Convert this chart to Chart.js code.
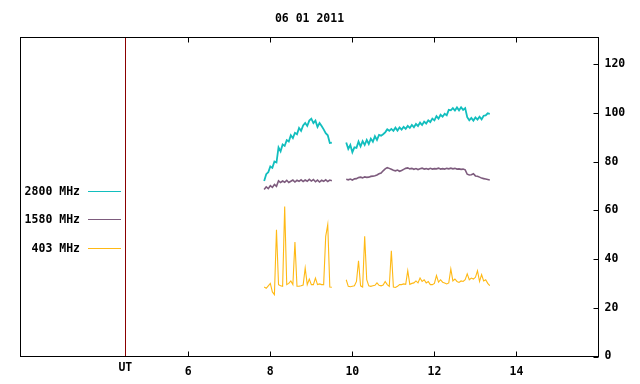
<!DOCTYPE html>
<html>
<head>
<meta charset="utf-8">
<script src="https://cdn.jsdelivr.net/npm/chart.js@4"></script>
<style>
  html, body { margin: 0; background: #ffffff; }
  #wrap { width: 640px; height: 384px; }
</style>
</head>
<body>
<div id="wrap"><canvas id="graph"></canvas></div>
<script>
// ========== DONNEES ==========
const title = '06 01 2011';
const seriesLabels = ['2800 MHz', '1580 MHz', '403 MHz'];
const seriesColors = ['#12BEBE', '#7D5B7D', '#FFB915'];
const seriesWidths = [1.8, 1.6, 1.1];

const xTicks = [6, 8, 10, 12, 14];
const yTicks = [0, 20, 40, 60, 80, 100, 120];
const utLabel = 'UT';
const utTime = 4.465;
const gapTime = 9.65;

// heures UT, premier bloc
const timesA = [7.85, 7.90, 7.95, 8.00, 8.05, 8.10, 8.15, 8.20, 8.25, 8.30,
  8.35, 8.40, 8.45, 8.50, 8.55, 8.60, 8.65, 8.70, 8.75, 8.80,
  8.85, 8.90, 8.95, 9.00, 9.05, 9.10, 9.15, 9.20, 9.25, 9.30,
  9.35, 9.40, 9.45, 9.50];

// heures UT, second bloc
const timesB = [9.85, 9.90, 9.95, 10.00, 10.05, 10.10, 10.15, 10.20, 10.25, 10.30,
  10.35, 10.40, 10.45, 10.50, 10.55, 10.60, 10.65, 10.70, 10.75, 10.80,
  10.85, 10.90, 10.95, 11.00, 11.05, 11.10, 11.15, 11.20, 11.25, 11.30,
  11.35, 11.40, 11.45, 11.50, 11.55, 11.60, 11.65, 11.70, 11.75, 11.80,
  11.85, 11.90, 11.95, 12.00, 12.05, 12.10, 12.15, 12.20, 12.25, 12.30,
  12.35, 12.40, 12.45, 12.50, 12.55, 12.60, 12.65, 12.70, 12.75, 12.80,
  12.85, 12.90, 12.95, 13.00, 13.05, 13.10, 13.15, 13.20, 13.25, 13.30,
  13.35];

// 2800 MHz
const flux2800A = [72.0, 74.8, 75.6, 78.0, 77.4, 80.0, 79.6, 85.8, 84.2, 87.0,
  86.4, 88.8, 88.2, 90.8, 89.6, 91.8, 91.2, 93.8, 92.6, 94.8,
  95.8, 94.6, 96.8, 97.6, 95.8, 96.8, 94.2, 95.8, 94.6, 93.2,
  91.6, 90.8, 87.6, 87.8];
const flux2800B = [87.8, 85.2, 86.8, 83.8, 85.8, 85.6, 88.2, 86.2, 88.4, 86.8,
  88.9, 87.2, 89.4, 88.1, 90.4, 88.9, 90.9, 90.6, 91.2, 92.0,
  93.2, 92.6, 93.4, 92.6, 93.9, 92.7, 94.0, 93.1, 94.2, 93.4,
  94.6, 93.8, 95.0, 94.1, 95.4, 94.6, 96.0, 95.0, 96.4, 95.6,
  96.9, 96.2, 97.6, 96.9, 98.6, 97.6, 99.2, 98.4, 99.6, 99.0,
  101.2, 101.0, 101.9, 100.9, 102.2, 101.0, 102.3, 101.2, 101.9, 98.2,
  96.9, 97.9, 96.8, 98.1, 97.2, 98.4, 97.3, 98.8, 98.9, 99.8,
  99.6];

// 1580 MHz
const flux1580A = [68.5, 69.6, 68.9, 70.1, 69.4, 70.6, 69.8, 72.1, 71.4, 72.0,
  71.5, 72.3, 71.4, 71.9, 72.4, 71.6, 72.3, 71.9, 72.5, 71.8,
  72.4, 71.9, 72.7, 72.0, 72.6, 71.7, 72.4, 71.6, 72.3, 71.9,
  72.5, 71.8, 72.4, 72.1];
const flux1580B = [72.7, 72.5, 72.8, 72.4, 72.9, 73.0, 73.4, 73.6, 73.3, 73.7,
  73.5, 73.6, 73.9, 74.0, 74.2, 74.5, 75.0, 75.3, 76.2, 77.0,
  77.5, 77.2, 76.8, 76.4, 76.2, 76.5, 76.0, 76.3, 76.8, 77.2,
  77.4, 77.0, 77.2, 76.8, 77.1, 76.7, 77.0, 77.3, 76.9, 77.1,
  76.8, 77.2, 76.9, 77.1, 77.0, 77.3, 76.9, 77.1, 76.9, 77.2,
  77.0, 77.3, 77.0, 77.2, 76.9, 77.0, 76.8, 76.9, 76.6, 74.8,
  74.5, 74.6, 75.0, 74.1, 74.0, 73.6, 73.2, 73.0, 72.8, 72.6,
  72.4];

// 403 MHz
const flux403A = [28.5, 28.0, 29.0, 30.0, 26.5, 25.4, 52.0, 29.5, 29.0, 28.8,
  61.5, 29.5, 30.0, 31.0, 29.5, 47.0, 28.8, 28.8, 29.0, 29.3,
  36.3, 29.5, 31.8, 29.5, 29.5, 32.2, 29.5, 29.8, 29.5, 29.5,
  49.3, 54.1, 28.5, 28.4];
const flux403B = [31.5, 28.8, 28.6, 28.8, 29.0, 30.8, 39.3, 29.0, 28.5, 49.3,
  31.5, 29.0, 28.8, 29.0, 29.2, 30.2, 29.2, 29.0, 29.3, 30.8,
  29.5, 28.8, 43.4, 28.5, 28.3, 28.8, 29.5, 29.5, 29.8, 29.6,
  35.2, 29.6, 30.0, 30.2, 31.0, 30.2, 32.2, 30.8, 31.5, 30.2,
  30.8, 29.5, 29.5, 30.0, 33.2, 30.5, 31.5, 30.5, 30.2, 29.8,
  30.2, 35.9, 31.0, 31.8, 30.8, 30.4, 31.0, 30.8, 31.5, 33.9,
  31.5, 32.2, 31.8, 32.5, 35.2, 30.8, 33.6, 31.0, 31.5, 30.0,
  29.1];

// Assemble les deux blocs avec un trou entre eux
function buildPoints(valsA, valsB) {
  const pts = timesA.map((t, i) => ({ x: t, y: valsA[i] }));
  pts.push({ x: gapTime, y: null });
  timesB.forEach((t, i) => pts.push({ x: t, y: valsB[i] }));
  return pts;
}

const seriesValues = [
  buildPoints(flux2800A, flux2800B),
  buildPoints(flux1580A, flux1580B),
  buildPoints(flux403A, flux403B)
];

const FONT = "bold 11.5px 'DejaVu Sans Mono'";

// Cadre, graduations, légende et titre façon gnuplot
const framePlugin = {
  id: 'framePlugin',
  afterDatasetsDraw: (chart) => {
    const ctx = chart.ctx;
    const area = chart.chartArea;
    const xs = chart.scales.x;
    const ys = chart.scales.y;

    ctx.save();

    // ligne UT
    const ux = Math.round(xs.getPixelForValue(utTime)) + 0.5;
    ctx.strokeStyle = '#8B0000';
    ctx.lineWidth = 1;
    ctx.beginPath();
    ctx.moveTo(ux, area.top);
    ctx.lineTo(ux, area.bottom);
    ctx.stroke();

    // cadre
    ctx.strokeStyle = '#000000';
    ctx.strokeRect(area.left, area.top, area.right - area.left, area.bottom - area.top);

    ctx.beginPath();
    xTicks.forEach(v => {
      const px = Math.round(xs.getPixelForValue(v)) + 0.5;
      ctx.moveTo(px, area.bottom);
      ctx.lineTo(px, area.bottom - 5);
      ctx.moveTo(px, area.top);
      ctx.lineTo(px, area.top + 5);
    });
    yTicks.forEach(v => {
      const py = Math.round(ys.getPixelForValue(v)) + 0.5;
      ctx.moveTo(area.right, py);
      ctx.lineTo(area.right - 5, py);
    });
    ctx.stroke();

    ctx.fillStyle = '#000000';
    ctx.font = FONT;
    ctx.textBaseline = 'middle';

    // étiquettes X
    ctx.textAlign = 'center';
    xTicks.forEach(v => {
      ctx.fillText(String(v), xs.getPixelForValue(v), 372);
    });
    ctx.fillText(utLabel, xs.getPixelForValue(utTime), 368);

    // étiquettes Y (à droite)
    ctx.textAlign = 'left';
    yTicks.forEach(v => {
      ctx.fillText(String(v), area.right + 6, ys.getPixelForValue(v));
    });

    // titre
    ctx.textAlign = 'center';
    ctx.fillText(title, (area.left + area.right) / 2, 19);

    // légende
    const rows = [191.5, 219.5, 248.5];
    seriesLabels.forEach((label, i) => {
      ctx.fillStyle = '#000000';
      ctx.textAlign = 'right';
      ctx.fillText(label, 80, rows[i] + 0.5);
      ctx.strokeStyle = seriesColors[i];
      ctx.beginPath();
      ctx.moveTo(88, rows[i]);
      ctx.lineTo(121, rows[i]);
      ctx.stroke();
    });

    ctx.restore();
  }
};

// Création du graphique
const graph = new Chart(document.getElementById('graph').getContext('2d'), {
  type: 'line',
  data: {
    datasets: seriesLabels.map((label, i) => ({
      label: label,
      data: seriesValues[i],
      borderColor: seriesColors[i],
      backgroundColor: seriesColors[i],
      borderWidth: seriesWidths[i],
      pointRadius: 0,
      tension: 0,
      spanGaps: false,
      fill: false
    }))
  },
  options: {
    responsive: true,
    maintainAspectRatio: false,
    animation: false,
    devicePixelRatio: 1,
    layout: {
      padding: { left: 20.5, right: 41.5, top: 37.5, bottom: 27.5 }
    },
    plugins: {
      legend: { display: false },
      title: { display: false },
      tooltip: { enabled: false }
    },
    scales: {
      x: { type: 'linear', min: 1.91, max: 16, display: false },
      y: { type: 'linear', min: 0, max: 130.9, display: false }
    }
  },
  plugins: [framePlugin]
});
</script>
</body>
</html>
